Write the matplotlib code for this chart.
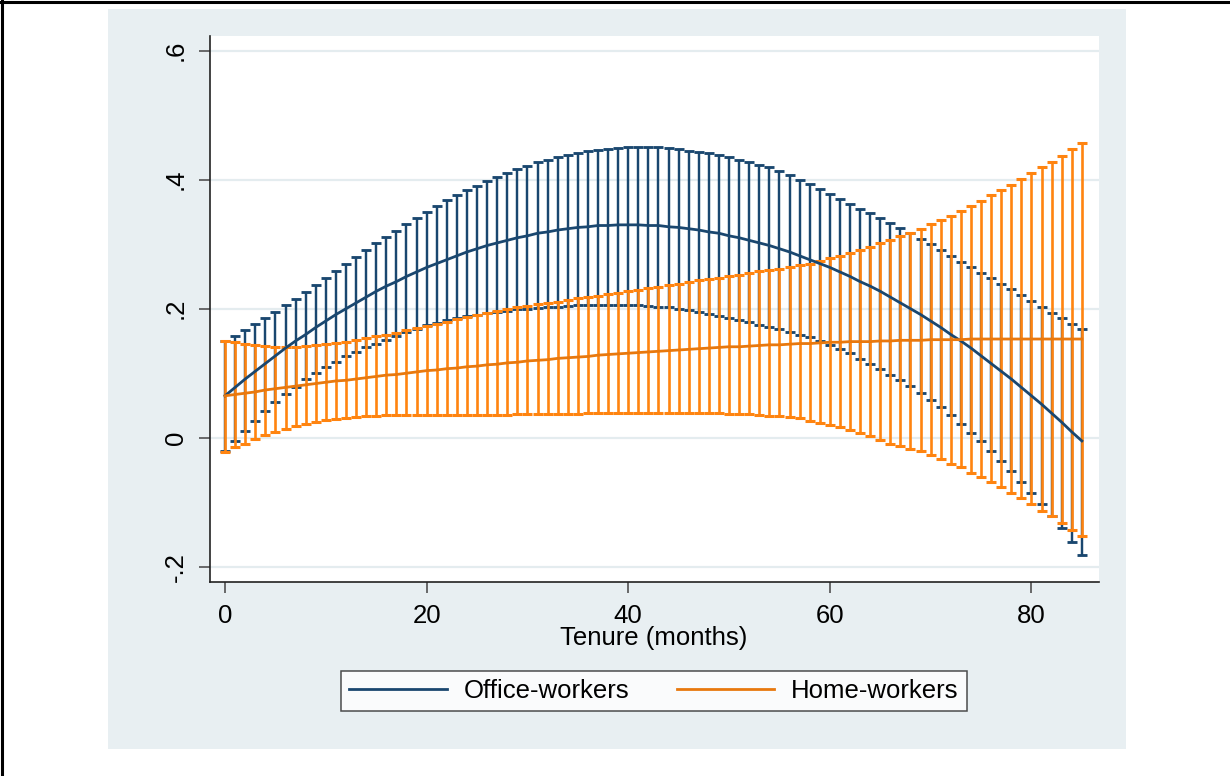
import matplotlib
matplotlib.use("Agg")
import matplotlib.pyplot as plt
from matplotlib.lines import Line2D
from matplotlib.patches import Rectangle

plt.rcParams['font.family'] = ['Liberation Sans', 'DejaVu Sans']

# tenure in months, one estimate per month
tenure = list(range(0, 86))

office_fit = [0.065, 0.078, 0.091, 0.103, 0.115, 0.127, 0.139, 0.150, 0.160, 0.171,
              0.181, 0.191, 0.200, 0.209, 0.218, 0.227, 0.235, 0.242, 0.250, 0.257,
              0.264, 0.270, 0.276, 0.282, 0.288, 0.293, 0.298, 0.302, 0.306, 0.310,
              0.313, 0.317, 0.319, 0.322, 0.324, 0.326, 0.327, 0.329, 0.329, 0.330,
              0.330, 0.330, 0.329, 0.329, 0.327, 0.326, 0.324, 0.322, 0.319, 0.317,
              0.313, 0.310, 0.306, 0.302, 0.298, 0.293, 0.288, 0.282, 0.276, 0.270,
              0.264, 0.257, 0.250, 0.242, 0.235, 0.227, 0.218, 0.209, 0.200, 0.191,
              0.181, 0.171, 0.160, 0.150, 0.139, 0.127, 0.115, 0.103, 0.091, 0.078,
              0.065, 0.052, 0.038, 0.024, 0.009, -0.005]
office_hi = [0.150, 0.158, 0.167, 0.176, 0.186, 0.195, 0.206, 0.215, 0.226, 0.237,
             0.248, 0.258, 0.269, 0.280, 0.291, 0.302, 0.311, 0.321, 0.331, 0.341,
             0.350, 0.359, 0.368, 0.376, 0.384, 0.391, 0.398, 0.404, 0.411, 0.417,
             0.422, 0.427, 0.431, 0.435, 0.438, 0.441, 0.444, 0.446, 0.448, 0.449,
             0.450, 0.451, 0.451, 0.450, 0.449, 0.447, 0.445, 0.443, 0.441, 0.438,
             0.435, 0.431, 0.427, 0.423, 0.419, 0.414, 0.408, 0.400, 0.393, 0.385,
             0.378, 0.370, 0.363, 0.355, 0.348, 0.340, 0.333, 0.325, 0.317, 0.308,
             0.300, 0.291, 0.282, 0.273, 0.265, 0.256, 0.247, 0.238, 0.230, 0.221,
             0.212, 0.203, 0.194, 0.186, 0.177, 0.168]
office_lo = [-0.020, -0.005, 0.011, 0.026, 0.041, 0.055, 0.068, 0.079, 0.091, 0.101,
             0.110, 0.118, 0.126, 0.133, 0.140, 0.146, 0.152, 0.158, 0.164, 0.169,
             0.174, 0.178, 0.182, 0.185, 0.188, 0.191, 0.193, 0.195, 0.197, 0.199,
             0.200, 0.201, 0.202, 0.203, 0.204, 0.205, 0.205, 0.206, 0.206, 0.206,
             0.205, 0.205, 0.204, 0.203, 0.202, 0.200, 0.198, 0.195, 0.192, 0.189,
             0.185, 0.182, 0.179, 0.175, 0.172, 0.168, 0.164, 0.159, 0.156, 0.150,
             0.144, 0.137, 0.131, 0.122, 0.115, 0.107, 0.098, 0.089, 0.080, 0.070,
             0.058, 0.047, 0.035, 0.022, 0.008, -0.005, -0.020, -0.036, -0.051, -0.068,
             -0.086, -0.103, -0.121, -0.140, -0.161, -0.182]

home_fit = [0.065, 0.067, 0.069, 0.071, 0.074, 0.076, 0.078, 0.080, 0.082, 0.084,
            0.086, 0.088, 0.089, 0.091, 0.093, 0.095, 0.097, 0.098, 0.100, 0.102,
            0.104, 0.105, 0.107, 0.108, 0.110, 0.111, 0.113, 0.114, 0.116, 0.117,
            0.119, 0.120, 0.121, 0.123, 0.124, 0.125, 0.126, 0.128, 0.129, 0.130,
            0.131, 0.132, 0.133, 0.134, 0.135, 0.136, 0.137, 0.138, 0.139, 0.140,
            0.141, 0.141, 0.142, 0.143, 0.144, 0.144, 0.145, 0.146, 0.146, 0.147,
            0.148, 0.148, 0.149, 0.149, 0.149, 0.150, 0.150, 0.151, 0.151, 0.151,
            0.152, 0.152, 0.152, 0.152, 0.153, 0.153, 0.153, 0.153, 0.153, 0.153,
            0.153, 0.153, 0.153, 0.153, 0.153, 0.153]
home_hi = [0.150, 0.148, 0.146, 0.144, 0.142, 0.141, 0.141, 0.141, 0.142, 0.143,
           0.145, 0.147, 0.149, 0.151, 0.154, 0.157, 0.160, 0.163, 0.167, 0.170,
           0.173, 0.177, 0.180, 0.184, 0.187, 0.190, 0.194, 0.197, 0.200, 0.202,
           0.204, 0.207, 0.209, 0.211, 0.214, 0.216, 0.218, 0.220, 0.223, 0.225,
           0.227, 0.229, 0.232, 0.234, 0.236, 0.239, 0.241, 0.244, 0.246, 0.248,
           0.251, 0.253, 0.255, 0.258, 0.260, 0.262, 0.264, 0.267, 0.270, 0.274,
           0.278, 0.281, 0.286, 0.291, 0.296, 0.302, 0.306, 0.312, 0.318, 0.324,
           0.331, 0.338, 0.344, 0.352, 0.359, 0.367, 0.376, 0.384, 0.392, 0.401,
           0.410, 0.419, 0.428, 0.437, 0.447, 0.457]
home_lo = [-0.022, -0.015, -0.009, -0.002, 0.004, 0.009, 0.013, 0.018, 0.021, 0.024,
           0.027, 0.029, 0.031, 0.032, 0.033, 0.034, 0.035, 0.035, 0.035, 0.035,
           0.035, 0.035, 0.035, 0.035, 0.035, 0.035, 0.035, 0.035, 0.035, 0.036,
           0.036, 0.036, 0.036, 0.037, 0.037, 0.037, 0.038, 0.038, 0.038, 0.039,
           0.039, 0.039, 0.039, 0.039, 0.039, 0.039, 0.039, 0.039, 0.038, 0.038,
           0.037, 0.036, 0.036, 0.035, 0.034, 0.033, 0.032, 0.030, 0.026, 0.023,
           0.020, 0.016, 0.012, 0.007, 0.002, -0.004, -0.009, -0.013, -0.017, -0.021,
           -0.027, -0.033, -0.040, -0.046, -0.054, -0.061, -0.069, -0.077, -0.085, -0.094,
           -0.103, -0.113, -0.122, -0.133, -0.143, -0.153]

y_ticks = [-0.2, 0, 0.2, 0.4, 0.6]
y_ticklabels = ['-.2', '0', '.2', '.4', '.6']
x_ticks = [0, 20, 40, 60, 80]

navy = '#1a476f'
orange_bar = '#ff8410'
orange_line = '#e8780e'
panel = '#e8eff2'
fs = 18.5

W, H = 1230, 776
fig = plt.figure(figsize=(W / 100, H / 100), dpi=100)
fig.patch.set_facecolor('white')

# shaded graph region behind the plot
fig.add_artist(Rectangle((108 / W, 1 - 749 / H), (1126 - 108) / W, (749 - 9) / H,
                         transform=fig.transFigure, facecolor=panel, edgecolor='none', zorder=0))
# frame lines along the top and left edge
fig.add_artist(Line2D([0, 1], [1 - 1.5 / H, 1 - 1.5 / H], transform=fig.transFigure,
                      color='black', lw=2.2))
fig.add_artist(Line2D([1.5 / W, 1.5 / W], [0, 1], transform=fig.transFigure,
                      color='black', lw=2.2))

ax = fig.add_axes([210 / W, 1 - 582 / H, (1099 - 210) / W, (582 - 36) / H])
ax.set_facecolor('white')
ax.set_xlim(-1.49, 86.7)
ax.set_ylim(-0.2237, 0.6228)

for y in y_ticks:
    ax.axhline(y, color='#e4ecef', lw=1.6, zorder=1)


def rcap(x, lo, hi, color, capw, lw, z):
    ax.vlines(x, lo, hi, color=color, lw=lw, zorder=z)
    ax.plot(x, lo, ls='none', marker='_', ms=capw, mew=lw + 0.3, color=color, zorder=z)
    ax.plot(x, hi, ls='none', marker='_', ms=capw, mew=lw + 0.3, color=color, zorder=z)


rcap(tenure, office_lo, office_hi, navy, 7.0, 1.75, 2)
rcap(tenure, home_lo, home_hi, orange_bar, 7.6, 1.9, 3)
ax.plot(tenure, office_fit, color=navy, lw=2.0, zorder=4)
ax.plot(tenure, home_fit, color=orange_line, lw=2.0, zorder=5)

for s in ['top', 'right']:
    ax.spines[s].set_visible(False)
for s in ['left', 'bottom']:
    ax.spines[s].set_color('#222222')
    ax.spines[s].set_linewidth(1.2)

ax.set_yticks(y_ticks)
ax.set_yticklabels(y_ticklabels, rotation=90, va='center')
ax.set_xticks(x_ticks)
ax.tick_params(axis='both', direction='out', length=8, width=1.1, color='#444444',
               labelsize=fs, labelcolor='black')
ax.tick_params(axis='y', pad=8)
ax.tick_params(axis='x', pad=8)

# axis title placed by its baseline below the tick labels
fig.text(654 / W, 1 - 645 / H, 'Tenure (months)', fontsize=fs, ha='center', va='baseline')

handles = [Line2D([], [], color=navy, lw=2.0), Line2D([], [], color=orange_line, lw=2.0)]
leg = fig.legend(handles, ['Office-workers', 'Home-workers'], ncol=2,
                 loc='center', bbox_to_anchor=(654 / W, 1 - 691 / H),
                 fontsize=fs, frameon=True, fancybox=False, edgecolor='#222222',
                 handlelength=3.8, handletextpad=0.65, columnspacing=1.85,
                 borderpad=0.32, borderaxespad=0)
leg.get_frame().set_linewidth(1.1)
leg.get_frame().set_facecolor('white')

fig.savefig('out.png', dpi=100)
